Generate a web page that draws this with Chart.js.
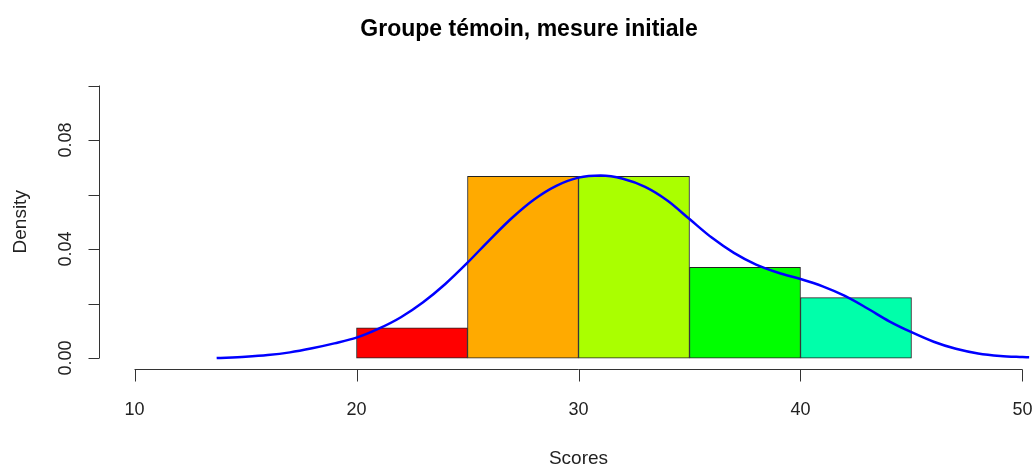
<!DOCTYPE html>
<html>
<head>
<meta charset="utf-8">
<script src="https://cdn.jsdelivr.net/npm/chart.js@4.4.1/dist/chart.umd.min.js"></script>
<style>
  html, body { margin: 0; padding: 0; background: #ffffff; overflow: hidden; width: 1034px; height: 468px; }
  canvas { display: block; }
</style>
</head>
<body>
<canvas id="c" width="1157" height="468"></canvas>
<script>
// ---- data ----
const titleText = "Groupe témoin, mesure initiale";
const xTitle = "Scores";
const yTitle = "Density";
const binCenters = [22.5, 27.5, 32.5, 37.5, 42.5];
const binDensity = [0.0111, 0.0667, 0.0667, 0.0333, 0.0222];
const binColors = ["#FF0000", "#FFAA00", "#AAFF00", "#00FF00", "#00FFAA"];
const kdeX = [13.7, 15, 16, 17, 18, 19, 20, 21, 22, 23, 24, 25, 26, 27, 28, 29, 30, 31, 32, 33, 34, 35, 36, 37, 38, 39, 40, 41, 42, 43, 44, 45, 46, 47, 48, 49, 50, 50.3];
const kdeY = [0.0000, 0.0005, 0.0011, 0.0021, 0.0036, 0.0054, 0.0075, 0.0108, 0.0150, 0.0205, 0.0272, 0.0350, 0.0434, 0.0514, 0.0582, 0.0632, 0.0662, 0.0670, 0.0658, 0.0628, 0.0578, 0.0510, 0.0442, 0.0386, 0.0343, 0.0313, 0.0290, 0.0263, 0.0228, 0.0183, 0.0135, 0.0095, 0.0060, 0.0034, 0.0017, 0.0008, 0.0004, 0.0003];
const xTickValues = [10, 20, 30, 40, 50];
const xTickLabels = ["10", "20", "30", "40", "50"];
const yTickValues = [0, 0.02, 0.04, 0.06, 0.08, 0.10];
const yTickLabels = ["0.00", "", "0.04", "", "0.08", ""];

const FONT = "'Liberation Sans', Arial, sans-serif";

const rAxes = {
  id: 'rAxes',
  afterDraw(chart) {
    const ctx = chart.ctx;
    const xs = chart.scales.x, ys = chart.scales.y;
    const ca = chart.chartArea;
    ctx.save();
    ctx.strokeStyle = '#333333';
    ctx.lineWidth = 1;
    // x axis
    const yAx = Math.round(ca.bottom) + 0.5;
    ctx.beginPath();
    ctx.moveTo(xs.getPixelForValue(xTickValues[0]), yAx);
    ctx.lineTo(xs.getPixelForValue(xTickValues[xTickValues.length - 1]), yAx);
    xTickValues.forEach(v => {
      const px = Math.round(xs.getPixelForValue(v)) + 0.5;
      ctx.moveTo(px, yAx);
      ctx.lineTo(px, yAx + 12);
    });
    ctx.stroke();
    // y axis
    const xAx = Math.round(ca.left) + 0.5;
    ctx.beginPath();
    ctx.moveTo(xAx, ys.getPixelForValue(yTickValues[0]));
    ctx.lineTo(xAx, ys.getPixelForValue(yTickValues[yTickValues.length - 1]));
    yTickValues.forEach(v => {
      const py = Math.round(ys.getPixelForValue(v)) + 0.5;
      ctx.moveTo(xAx, py);
      ctx.lineTo(xAx - 11, py);
    });
    ctx.stroke();
    // y tick labels (rotated, like R)
    ctx.fillStyle = '#222222';
    ctx.font = "18px " + FONT;
    ctx.textAlign = 'center';
    ctx.textBaseline = 'middle';
    yTickValues.forEach((v, i) => {
      if (!yTickLabels[i]) return;
      ctx.save();
      ctx.translate(66, ys.getPixelForValue(v));
      ctx.rotate(-Math.PI / 2);
      ctx.fillText(yTickLabels[i], 0, 0);
      ctx.restore();
    });
    ctx.restore();
  }
};

new Chart(document.getElementById('c'), {
  type: 'bar',
  data: {
    datasets: [
      {
        type: 'line',
        order: 0,
        data: kdeX.map((x, i) => ({ x: x, y: kdeY[i] })),
        borderColor: '#0000FF',
        borderWidth: 2.5,
        pointRadius: 0,
        fill: false,
        cubicInterpolationMode: 'monotone'
      },
      {
        type: 'bar',
        order: 1,
        data: binCenters.map((x, i) => ({ x: x, y: binDensity[i] })),
        backgroundColor: binColors,
        borderColor: '#222222',
        borderWidth: 1,
        borderSkipped: false,
        barPercentage: 1.0,
        categoryPercentage: 1.0
      }
    ]
  },
  options: {
    responsive: false,
    animation: false,
    devicePixelRatio: 1,
    layout: { padding: { left: 0, right: 99, top: 0, bottom: 0 } },
    plugins: {
      legend: { display: false },
      tooltip: { enabled: false },
      title: {
        display: true,
        text: titleText,
        color: '#000000',
        font: { family: FONT, size: 23, weight: 'bold', lineHeight: 1.2 },
        padding: { top: 16, bottom: 31 }
      }
    },
    scales: {
      x: {
        type: 'linear',
        offset: false,
        min: 8.4,
        max: 51.6,
        grid: { display: false, drawTicks: false },
        border: { display: false },
        afterBuildTicks: (s) => { s.ticks = xTickValues.map(v => ({ value: v })); },
        afterFit: (s) => { s.height = 99; },
        ticks: {
          autoSkip: false,
          maxRotation: 0,
          minRotation: 0,
          padding: 30,
          color: '#222222',
          font: { family: FONT, size: 18 },
          callback: (v) => { const i = xTickValues.indexOf(v); return i >= 0 ? xTickLabels[i] : ''; }
        },
        title: {
          display: true,
          text: xTitle,
          color: '#222222',
          font: { family: FONT, size: 19, lineHeight: 1.0 },
          padding: { top: 0, bottom: 0 }
        }
      },
      y: {
        type: 'linear',
        min: -0.004,
        max: 0.104,
        grid: { display: false, drawTicks: false },
        border: { display: false },
        afterFit: (s) => { s.width = 99; },
        ticks: { display: false },
        title: {
          display: true,
          text: yTitle,
          color: '#222222',
          font: { family: FONT, size: 19, lineHeight: 1.2 },
          padding: { top: 9, bottom: 0 }
        }
      }
    }
  },
  plugins: [rAxes]
});
</script>
</body>
</html>
